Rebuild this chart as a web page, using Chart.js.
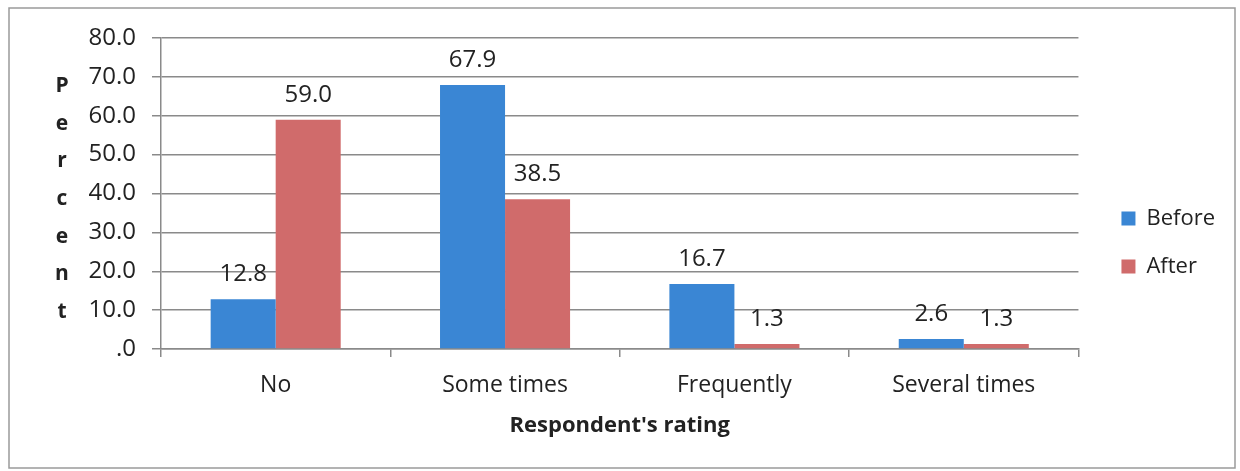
<!DOCTYPE html>
<html>
<head>
<meta charset="utf-8">
<script src="https://cdn.jsdelivr.net/npm/chart.js@4"></script>
<style>
  html, body { margin: 0; padding: 0; background: #fff; }
  #wrap { width: 1240px; height: 471px; }
</style>
</head>
<body>
<div id="wrap"><canvas id="myChart" width="1240" height="471"></canvas></div>
<script>
const categories = ["No", "Some times", "Frequently", "Several times"];
const beforeValues = [12.8, 67.9, 16.7, 2.6];
const afterValues = [59.0, 38.5, 1.3, 1.3];
const yTickLabels = [".0", "10.0", "20.0", "30.0", "40.0", "50.0", "60.0", "70.0", "80.0"];
const yTitleLetters = ["P", "e", "r", "c", "e", "n", "t"];

const FONT = "'Open Sans', 'DejaVu Sans', sans-serif";
const GRID = "#8a8a8a";

// values above each bar
const barValues = {
  id: "barValues",
  afterDatasetsDraw(chart) {
    const { ctx } = chart;
    ctx.save();
    ctx.font = "24px " + FONT;
    ctx.fillStyle = "#222";
    ctx.textAlign = "center";
    ctx.textBaseline = "alphabetic";
    chart.data.datasets.forEach((ds, i) => {
      chart.getDatasetMeta(i).data.forEach((bar, j) => {
        ctx.fillText(ds.data[j].toFixed(1), bar.x, bar.y - 18);
      });
    });
    ctx.restore();
  }
};

// frame, stacked "percent" title, legend nudge
const frame = {
  id: "frame",
  afterLayout(chart) {
    // legend sits a bit away from the plot and higher up
    const lg = chart.legend;
    lg.left += 17; lg.right += 17;
    lg.top -= 12; lg.bottom -= 12;
  },
  beforeDraw(chart) {
    const { ctx } = chart;
    ctx.save();
    ctx.fillStyle = "#fff";
    ctx.fillRect(0, 0, chart.width, chart.height);
    ctx.strokeStyle = "#9a9a9a";
    ctx.lineWidth = 1.5;
    ctx.strokeRect(9, 8, 1226, 460);
    ctx.restore();
  },
  afterDraw(chart) {
    const { ctx } = chart;
    const y = chart.scales.y;
    ctx.save();
    ctx.font = "bold 21px " + FONT;
    ctx.fillStyle = "#222";
    ctx.textAlign = "center";
    ctx.textBaseline = "alphabetic";
    yTitleLetters.forEach((ch, i) => {
      ctx.fillText(ch, 62, y.getPixelForValue(70 - i * 10) + 15 - i * 1.2);
    });
    ctx.restore();
  }
};

const ctx = document.getElementById("myChart");

const myChart = new Chart(ctx, {
  type: "bar",
  plugins: [frame, barValues],
  data: {
    labels: categories,
    datasets: [
      {
        label: "Before",
        data: beforeValues,
        backgroundColor: "#3a86d4",
        categoryPercentage: 0.567,
        barPercentage: 1,
      },
      {
        label: "After",
        data: afterValues,
        backgroundColor: "#d06b6b",
        categoryPercentage: 0.567,
        barPercentage: 1,
      },
    ],
  },
  options: {
    responsive: false,
    animation: false,
    layout: {
      padding: { left: 10, top: 38, right: 32, bottom: 0 },
    },
    plugins: {
      tooltip: { enabled: false },
      legend: {
        display: true,
        position: "right",
        labels: {
          boxWidth: 14,
          boxHeight: 14,
          padding: 26,
          color: "#222",
          font: { size: 22, family: FONT },
        },
      },
    },
    scales: {
      x: {
        afterFit(s) { s.height = 122; },
        grid: {
          offset: true,
          drawOnChartArea: false,
          tickLength: 8,
          color: GRID,
          lineWidth: 1.5,
        },
        border: { color: GRID, width: 1.5 },
        ticks: {
          padding: 15,
          color: "#222",
          font: { size: 23, family: FONT },
        },
        title: {
          display: true,
          text: "Respondent's rating",
          color: "#222",
          font: { size: 22, weight: "bold", family: FONT },
          padding: { top: 4, bottom: 32 },
        },
      },
      y: {
        min: 0,
        max: 80,
        afterFit(s) { s.width = 151; },
        grid: {
          tickLength: 9,
          color: GRID,
          lineWidth: 1.5,
        },
        border: { color: GRID, width: 1.5 },
        ticks: {
          stepSize: 10,
          padding: 16,
          color: "#222",
          font: { size: 24, family: FONT },
          callback: (v, i) => yTickLabels[i],
        },
      },
    },
  },
});
</script>
</body>
</html>
